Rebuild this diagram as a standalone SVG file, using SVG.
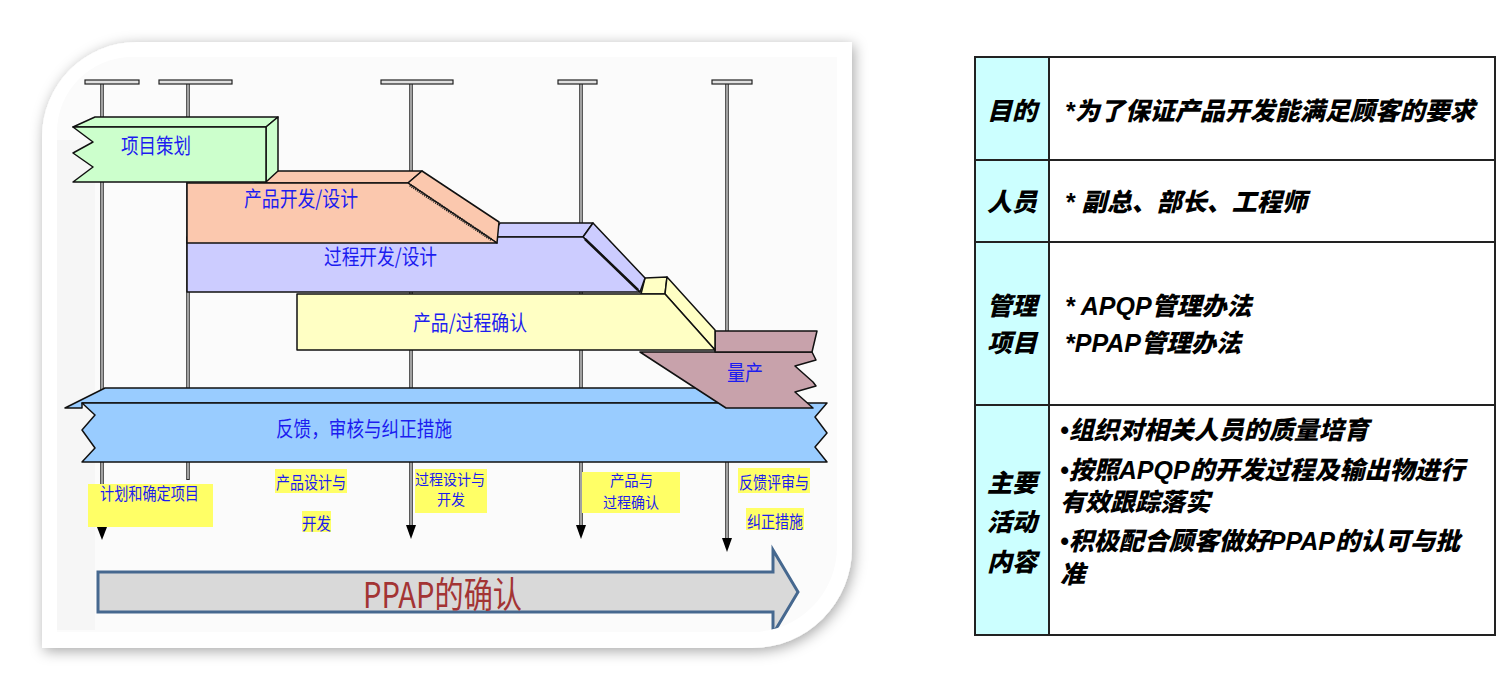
<svg xmlns="http://www.w3.org/2000/svg" width="1496" height="690" viewBox="0 0 1496 690">
<defs>
<filter id="sh" x="-10%" y="-10%" width="120%" height="120%">
<feDropShadow dx="2" dy="3" stdDeviation="7" flood-color="#000" flood-opacity="0.35"/>
</filter>
<clipPath id="inner"><path d="M57,132 A75,75 0 0 1 132,57 L837,57 L837,547 A85,85 0 0 1 752,632 L57,632 Z"/></clipPath>
<style>
.bt{font-family:"Noto Sans CJK SC","Liberation Sans",sans-serif;fill:#1c1cf0;font-size:21px}
.lb{font-family:"Noto Sans CJK SC","Liberation Sans",sans-serif;fill:#1c1cf0;font-size:17px}
.lb2{font-family:"Noto Sans CJK SC","Liberation Sans",sans-serif;fill:#1c1cf0;font-size:15px}
.hl{fill:#ffff66}
.vo{stroke:#222;stroke-width:3.5}
.vi{stroke:#e6e6e6;stroke-width:1.3}
.bar{fill:#e0e0e0;stroke:#222;stroke-width:1.2}
.ah{fill:#000}
.sh{stroke:#111;stroke-width:1.5;stroke-linejoin:round}
.tt{font-family:"Liberation Sans","Noto Sans CJK SC",sans-serif;font-weight:900;font-style:italic;font-size:25px;fill:#000}
.tc{text-anchor:middle}
</style>
</defs>
<rect width="1496" height="690" fill="#fff"/>
<g id="panel">
<path d="M42,137 A95,95 0 0 1 137,42 L852,42 L852,548 A100,100 0 0 1 752,648 L42,648 Z" fill="#fff" filter="url(#sh)"/>
<path d="M57,132 A75,75 0 0 1 132,57 L837,57 L837,547 A85,85 0 0 1 752,632 L57,632 Z" fill="#fbfbfb"/>
<rect x="57" y="140" width="38" height="490" fill="#f6f6f6" clip-path="url(#inner)"/>
</g>
<g clip-path="url(#inner)">
<g id="connectors">
<line class="vo" x1="102" y1="82" x2="102" y2="528"/><line class="vi" x1="102" y1="84" x2="102" y2="527"/>
<line class="vo" x1="188" y1="82" x2="188" y2="480"/><line class="vi" x1="188" y1="84" x2="188" y2="479"/>
<line class="vo" x1="411" y1="82" x2="411" y2="526"/><line class="vi" x1="411" y1="84" x2="411" y2="525"/>
<line class="vo" x1="581" y1="82" x2="581" y2="526"/><line class="vi" x1="581" y1="84" x2="581" y2="525"/>
<line class="vo" x1="727" y1="82" x2="727" y2="539"/><line class="vi" x1="727" y1="84" x2="727" y2="538"/>
<rect class="bar" x="85" y="80" width="54" height="4"/>
<rect class="bar" x="159" y="80" width="73" height="4"/>
<rect class="bar" x="381" y="80" width="72" height="4"/>
<rect class="bar" x="558" y="80" width="39" height="4"/>
<rect class="bar" x="712" y="80" width="40" height="4"/>
<polygon class="ah" points="97,527 107,527 102,540"/>
<polygon class="ah" points="406,525 416,525 411,539"/>
<polygon class="ah" points="576,525 586,525 581,539"/>
<polygon class="ah" points="722,538 732,538 727,552"/>
</g>
<g id="feedback">
<polygon class="sh" fill="#99ccff" points="65,408 105,388 780,388 800,403 82,403 82,408"/>
<polygon class="sh" fill="#99ccff" points="82,403 827,403 815,417 827,433 815,447 827,462 82,462 95,448 82,430 95,415"/>
<text class="bt" x="276" y="436" textLength="176" lengthAdjust="spacingAndGlyphs">反馈，审核与纠正措施</text>
</g>
<g id="mass">
<polygon class="sh" fill="#c8a2ab" points="640,352 812,352 816,360 795,366 813,382 816,386 795,392 813,408 726,408"/>
<polygon class="sh" fill="#c8a2ab" points="715,331 817,331 812,352 715,352"/>
<text class="bt" x="727" y="380" textLength="36" lengthAdjust="spacingAndGlyphs">量产</text>
</g>
<g id="confirm">
<polygon class="sh" fill="#ffffc4" points="641,294 645,278 667,277 665,294"/>
<polygon class="sh" fill="#ffffc4" points="665,294 667,277 715,330 715,350"/>
<polygon class="sh" fill="#ffffc4" points="297,294 665,294 715,350 297,350"/>
<text class="bt" x="413" y="330" textLength="114" lengthAdjust="spacingAndGlyphs">产品/过程确认</text>
</g>
<g id="process">
<polygon class="sh" fill="#ccccff" points="490,237 500,223 593,223 583,237"/>
<polygon class="sh" fill="#ccccff" points="583,237 593,223 645,278 640,292"/>
<polygon class="sh" fill="#ccccff" points="187,237 583,237 640,292 187,292"/>
<line x1="585" y1="239" x2="638" y2="290" stroke="#111" stroke-width="2.5"/>
<text class="bt" x="324" y="264" textLength="113" lengthAdjust="spacingAndGlyphs">过程开发/设计</text>
</g>
<g id="product">
<polygon class="sh" fill="#fbc8ae" points="255,183 266,171 422,171 408,183"/>
<polygon class="sh" fill="#fbc8ae" points="408,183 422,171 499,222 497,243"/>
<polygon class="sh" fill="#fbc8ae" points="187,183 408,183 497,243 187,243"/>
<line x1="410" y1="185" x2="492" y2="240" stroke="#222" stroke-width="3" stroke-dasharray="1.2 1"/>
<text class="bt" x="244" y="206" textLength="114" lengthAdjust="spacingAndGlyphs">产品开发/设计</text>
</g>
<g id="planning">
<polygon class="sh" fill="#ccffcc" points="73,127 95,117 278,117 266,127"/>
<polygon class="sh" fill="#ccffcc" points="266,127 278,117 278,171 266,182"/>
<polygon class="sh" fill="#ccffcc" points="73,127 266,127 266,182 73,182 93,167 73,153 93,142"/>
<text class="bt" x="121" y="153" textLength="70" lengthAdjust="spacingAndGlyphs">项目策划</text>
</g>
<g id="label1">
<rect class="hl" x="88" y="484" width="125" height="43"/>
<text class="lb" x="100" y="500" textLength="99" lengthAdjust="spacingAndGlyphs">计划和确定项目</text>
</g>
<g id="label2">
<rect class="hl" x="275" y="469" width="72" height="24"/>
<text class="lb" x="276" y="489" textLength="70" lengthAdjust="spacingAndGlyphs">产品设计与</text>
<rect class="hl" x="302" y="511" width="29" height="21"/>
<text class="lb" x="302" y="530" textLength="29" lengthAdjust="spacingAndGlyphs">开发</text>
</g>
<g id="label3">
<rect class="hl" x="415" y="469" width="72" height="44"/>
<text class="lb2" x="415" y="485" textLength="70" lengthAdjust="spacingAndGlyphs">过程设计与</text>
<text class="lb2" x="437" y="505" textLength="28" lengthAdjust="spacingAndGlyphs">开发</text>
</g>
<g id="label4">
<rect class="hl" x="582" y="472" width="98" height="41"/>
<text class="lb2" x="610" y="486" textLength="43" lengthAdjust="spacingAndGlyphs">产品与</text>
<text class="lb2" x="603" y="508" textLength="56" lengthAdjust="spacingAndGlyphs">过程确认</text>
</g>
<g id="label5">
<rect class="hl" x="738" y="468" width="72" height="25"/>
<text class="lb" x="739" y="489" textLength="70" lengthAdjust="spacingAndGlyphs">反馈评审与</text>
<rect class="hl" x="746" y="508" width="58" height="22"/>
<text class="lb" x="747" y="528" textLength="56" lengthAdjust="spacingAndGlyphs">纠正措施</text>
</g>
<g id="ppap">
<polygon points="98,572 773,572 773,550 798,592 773,634 773,612 98,612" fill="#d9d9d9" stroke="#46688f" stroke-width="3" stroke-linejoin="miter"/>
<text x="363" y="608" textLength="159" lengthAdjust="spacingAndGlyphs" font-family="Noto Sans CJK SC, Liberation Sans, sans-serif" font-size="36" fill="#a33434">PPAP的确认</text>
</g>
</g>
<g id="table">
<rect x="975" y="57" width="74" height="578" fill="#ccffff"/>
<g fill="none" stroke="#222" stroke-width="2">
<rect x="975" y="57" width="520" height="578"/>
<line x1="1049" y1="57" x2="1049" y2="635"/>
<line x1="975" y1="160" x2="1495" y2="160"/>
<line x1="975" y1="242" x2="1495" y2="242"/>
<line x1="975" y1="405" x2="1495" y2="405"/>
</g>
<g id="row1">
<text class="tt tc" x="1012" y="120">目的</text>
<text class="tt" x="1065" y="120">*为了保证产品开发能满足顾客的要求</text>
</g>
<g id="row2">
<text class="tt tc" x="1012" y="211">人员</text>
<text class="tt" x="1065" y="211">* 副总、部长、工程师</text>
</g>
<g id="row3">
<text class="tt tc" x="1012" y="315">管理</text>
<text class="tt tc" x="1012" y="352">项目</text>
<text class="tt" x="1065" y="315">* APQP管理办法</text>
<text class="tt" x="1065" y="352">*PPAP管理办法</text>
</g>
<g id="row4">
<text class="tt tc" x="1012" y="492">主要</text>
<text class="tt tc" x="1012" y="531">活动</text>
<text class="tt tc" x="1012" y="571">内容</text>
<text class="tt" x="1060" y="439">•组织对相关人员的质量培育</text>
<text class="tt" x="1060" y="479">•按照APQP的开发过程及输出物进行</text>
<text class="tt" x="1060" y="511">有效跟踪落实</text>
<text class="tt" x="1060" y="550">•积极配合顾客做好PPAP的认可与批</text>
<text class="tt" x="1060" y="583">准</text>
</g>
</g>
</svg>
